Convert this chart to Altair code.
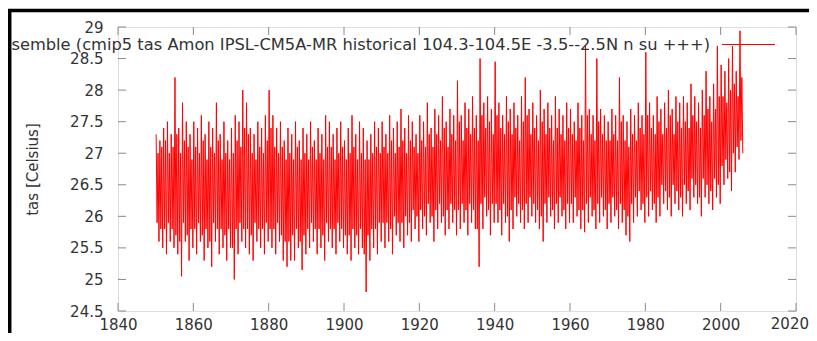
import altair as alt
import pandas as pd

# ---- data, 1850-2005 ----
years = list(range(1850, 2006))
# annual upper spike
hi = [
    27.3, 27.2, 27.4, 27.5, 27.3, 28.2, 27.4, 27.8, 27.5, 27.3,
    27.5, 27.4, 27.6, 27.3, 27.5, 27.4, 27.8, 27.3, 27.5, 27.2,
    27.4, 27.6, 27.5, 28.0, 27.8, 27.4, 27.3, 27.5, 27.4, 27.6,
    28.0, 27.6, 27.4, 27.5, 27.2, 27.4, 27.3, 27.5, 27.2, 27.4,
    27.3, 27.5, 27.2, 27.4, 27.3, 27.6, 27.5, 27.3, 27.4, 27.5,
    27.2, 27.4, 27.6, 27.3, 27.5, 27.4, 27.2, 27.3, 27.5, 27.4,
    27.5, 27.3, 27.6, 27.4, 27.5, 27.7, 27.4, 27.6, 27.5, 27.3,
    27.6, 27.5, 27.8, 27.4, 27.7, 27.6, 27.9, 27.5, 27.7, 27.6,
    28.15, 27.6, 27.8, 27.7, 27.9, 27.6, 28.5, 27.8, 27.9, 27.7,
    28.45, 27.8, 27.6, 27.9, 27.7, 27.8, 27.6, 27.9, 28.2, 27.7,
    27.8, 27.6, 28.0, 27.7, 27.8, 27.6, 27.9, 27.7, 27.6, 27.8,
    27.7, 27.5, 27.8, 27.6, 28.7, 27.7, 27.6, 28.5, 27.7, 27.6,
    27.5, 27.7, 27.6, 28.2, 27.6, 27.5, 27.7, 27.6, 27.8, 27.6,
    28.6, 27.8, 27.6, 27.9, 27.7, 27.8, 28.0, 27.7, 27.9, 27.8,
    27.9, 27.8, 28.1, 27.9, 27.8, 28.0, 28.3, 27.9, 28.1, 28.7,
    28.4, 28.3, 28.5, 28.7, 28.3, 28.94,
]
# annual lower spike
lo = [
    25.6, 25.5, 25.4, 25.6, 25.5, 25.4, 25.05, 25.6, 25.3, 25.5,
    25.4, 25.6, 25.3, 25.5, 25.2, 25.6, 25.4, 25.5, 25.3, 25.5,
    25.0, 25.4, 25.6, 25.5, 25.4, 25.3, 25.6, 25.5, 25.4, 25.6,
    25.5, 25.4, 25.6, 25.3, 25.2, 25.3, 25.3, 25.5, 25.15, 25.4,
    25.5, 25.6, 25.4, 25.5, 25.3, 25.6, 25.5, 25.4, 25.6, 25.5,
    25.4, 25.3, 25.5, 25.4, 25.5, 24.8, 25.3, 25.5, 25.4, 25.6,
    25.5, 25.6, 25.4, 25.7, 25.6, 25.5, 25.7, 25.6, 25.8, 25.6,
    25.8, 25.7, 25.9, 25.6, 25.8, 25.9, 25.7, 25.8, 25.9, 25.7,
    25.8, 25.9, 25.7, 25.9, 25.8, 25.2, 25.8, 26.0, 25.7, 25.9,
    25.9, 25.7, 25.9, 25.6, 25.8, 26.0, 25.9, 25.8, 25.9, 26.0,
    25.9, 25.8, 25.6, 25.9, 26.0, 25.8, 25.9, 26.0, 25.8, 25.9,
    25.9, 26.0, 25.8, 25.75, 25.9, 26.0, 25.8, 25.9, 26.0, 25.8,
    25.9, 26.0, 25.8, 25.9, 25.7, 25.6, 25.9, 26.0, 26.1, 25.9,
    26.0, 26.1, 25.9, 26.0, 26.2, 26.1, 26.0, 26.2, 26.1, 26.0,
    26.2, 26.1, 26.3, 26.2, 26.0, 26.3, 26.2, 26.1, 26.3, 26.2,
    26.5, 26.6, 26.4, 26.7, 26.9, 27.0,
]
# top of the dense core of monthly values
core_top = [
    27.0, 27.1, 27.2, 27.0, 27.1, 27.3, 27.0, 27.2, 27.1, 26.9,
    27.1, 27.0, 27.2, 26.9, 27.1, 27.0, 27.2, 26.9, 27.0, 26.9,
    27.0, 27.2, 27.1, 27.4, 27.3, 27.0, 26.9, 27.1, 27.0, 27.2,
    27.4, 27.1, 27.0, 27.1, 26.9, 27.0, 26.9, 27.1, 26.9, 27.0,
    26.9, 27.1, 26.9, 27.0, 26.9, 27.1, 27.1, 26.9, 27.0, 27.1,
    26.9, 27.0, 27.1, 26.9, 27.0, 26.9, 26.9, 27.0, 27.1, 27.0,
    27.1, 27.0, 27.2, 27.0, 27.1, 27.2, 27.0, 27.2, 27.1, 27.0,
    27.2, 27.1, 27.3, 27.1, 27.3, 27.2, 27.4, 27.1, 27.3, 27.2,
    27.5, 27.2, 27.4, 27.3, 27.4, 27.2, 27.6, 27.4, 27.5, 27.3,
    27.6, 27.4, 27.3, 27.5, 27.3, 27.4, 27.2, 27.5, 27.6, 27.3,
    27.4, 27.2, 27.5, 27.3, 27.4, 27.2, 27.4, 27.3, 27.2, 27.4,
    27.3, 27.2, 27.4, 27.2, 27.6, 27.3, 27.2, 27.5, 27.3, 27.2,
    27.2, 27.3, 27.2, 27.5, 27.2, 27.1, 27.3, 27.2, 27.4, 27.3,
    27.6, 27.4, 27.3, 27.5, 27.3, 27.4, 27.6, 27.3, 27.5, 27.4,
    27.5, 27.4, 27.6, 27.5, 27.4, 27.6, 27.7, 27.5, 27.7, 27.9,
    27.9, 27.8, 28.0, 28.1, 27.9, 28.2,
]
# bottom of the dense core of monthly values
core_bot = [
    25.9, 25.8, 25.8, 25.9, 25.8, 25.7, 25.6, 25.9, 25.7, 25.8,
    25.8, 25.9, 25.7, 25.8, 25.6, 25.9, 25.8, 25.8, 25.7, 25.8,
    25.5, 25.8, 25.9, 25.8, 25.8, 25.7, 25.9, 25.8, 25.8, 25.9,
    25.8, 25.8, 25.9, 25.7, 25.6, 25.6, 25.7, 25.8, 25.6, 25.7,
    25.8, 25.9, 25.8, 25.8, 25.7, 25.9, 25.8, 25.8, 25.9, 25.8,
    25.7, 25.7, 25.8, 25.7, 25.8, 25.4, 25.7, 25.8, 25.8, 25.9,
    25.9, 25.9, 25.8, 26.0, 25.9, 25.9, 26.0, 25.9, 26.1, 26.0,
    26.1, 26.0, 26.2, 26.0, 26.1, 26.2, 26.0, 26.1, 26.2, 26.1,
    26.1, 26.2, 26.1, 26.2, 26.1, 25.8, 26.2, 26.3, 26.1, 26.2,
    26.2, 26.1, 26.2, 26.0, 26.1, 26.3, 26.2, 26.1, 26.2, 26.3,
    26.2, 26.1, 26.0, 26.2, 26.3, 26.1, 26.2, 26.3, 26.1, 26.2,
    26.2, 26.3, 26.1, 26.1, 26.2, 26.3, 26.1, 26.2, 26.3, 26.1,
    26.2, 26.3, 26.1, 26.2, 26.1, 26.0, 26.2, 26.3, 26.4, 26.2,
    26.3, 26.4, 26.2, 26.3, 26.5, 26.4, 26.3, 26.5, 26.4, 26.3,
    26.5, 26.4, 26.6, 26.5, 26.3, 26.6, 26.5, 26.4, 26.6, 26.5,
    26.8, 26.9, 26.7, 27.0, 27.1, 27.2,
]
x_ticks = [1840, 1860, 1880, 1900, 1920, 1940, 1960, 1980, 2000, 2020]
y_ticks = [24.5, 25, 25.5, 26, 26.5, 27, 27.5, 28, 28.5, 29]
last_x_label = ["2020"]
legend_label = "ensemble (cmip5 tas Amon IPSL-CM5A-MR historical 104.3-104.5E -3.5--2.5N n su +++)"
y_title = "tas [Celsius]"

# ---- build table: four points per year ----
rows = []
for yr, h, cb, ct, l in zip(years, hi, core_bot, core_top, lo):
    rows.append({"t": yr + 0.125, "v": h})
    rows.append({"t": yr + 0.375, "v": cb})
    rows.append({"t": yr + 0.625, "v": ct})
    rows.append({"t": yr + 0.875, "v": l})
df = pd.DataFrame(rows)

W, H = 678, 284
FONT = "DejaVu Sans"
TXT = "#333333"
FRAME = "#8a8a8a"

xs = alt.Scale(domain=[1840, 2020], nice=False, zero=False)
ys = alt.Scale(domain=[24.5, 29], nice=False, zero=False)

x_axis = alt.Axis(
    values=x_ticks, format="d", ticks=False, domain=False, grid=False,
    labelExpr="datum.value == 2020 ? '' : datum.label",
    labelFont=FONT, labelFontSize=15, labelColor=TXT, labelPadding=6,
    labelFlush=False, title=None)
y_axis = alt.Axis(
    values=y_ticks, format=".1~f", ticks=False, domain=False, grid=False,
    labelFont=FONT, labelFontSize=15, labelColor=TXT, labelPadding=15,
    labelFlush=False, title=y_title, titleFont=FONT, titleFontSize=15,
    titleFontWeight="normal", titleColor=TXT, titleX=-86, titleY=H / 2,
    titleBaseline="middle", titleAngle=-90)

line = alt.Chart(df).mark_line(color="#ff0000", strokeWidth=1, clip=True).encode(
    x=alt.X("t:Q", scale=xs, axis=x_axis),
    y=alt.Y("v:Q", scale=ys, axis=y_axis),
)

xt = pd.DataFrame({"t": x_ticks})
yt = pd.DataFrame({"v": y_ticks})

bottom_ticks = alt.Chart(xt).mark_rule(color=FRAME, strokeWidth=1).encode(
    x=alt.X("t:Q", scale=xs, axis=x_axis), y=alt.value(H), y2=alt.value(H - 8))
top_ticks = alt.Chart(xt).mark_rule(color=FRAME, strokeWidth=1).encode(
    x=alt.X("t:Q", scale=xs, axis=x_axis), y=alt.value(0), y2=alt.value(8))
left_ticks = alt.Chart(yt).mark_rule(color=FRAME, strokeWidth=1).encode(
    y=alt.Y("v:Q", scale=ys, axis=y_axis), x=alt.value(0), x2=alt.value(8))
right_ticks = alt.Chart(yt).mark_rule(color=FRAME, strokeWidth=1).encode(
    y=alt.Y("v:Q", scale=ys, axis=y_axis), x=alt.value(W), x2=alt.value(W - 8))

# last x label kept inside the page edge
last_lab = alt.Chart(pd.DataFrame({"lab": last_x_label})).mark_text(
    align="right", baseline="top", font=FONT, fontSize=15, color=TXT
).encode(x=alt.value(W + 13), y=alt.value(H + 6), text="lab:N")

leg_df = pd.DataFrame({"label": [legend_label]})
leg_text = alt.Chart(leg_df).mark_text(
    align="right", baseline="middle", font=FONT, fontSize=16.3, color=TXT
).encode(x=alt.value(592), y=alt.value(18), text="label:N")
leg_line = alt.Chart(leg_df).mark_rule(color="#ff0000", strokeWidth=1).encode(
    x=alt.value(604), x2=alt.value(657), y=alt.value(17.5))

# black frame of the screenshot
border_top = alt.Chart(leg_df).mark_rule(color="#000000", strokeWidth=3.5).encode(
    x=alt.value(-112), x2=alt.value(702), y=alt.value(-16.5))
border_left = alt.Chart(leg_df).mark_rule(color="#000000", strokeWidth=3.5).encode(
    x=alt.value(-108.3), y=alt.value(-18), y2=alt.value(310))

chart = alt.layer(
    line, bottom_ticks, top_ticks, left_ticks, right_ticks, last_lab,
    leg_text, leg_line, border_top, border_left,
).properties(
    width=W, height=H,
    autosize=alt.AutoSizeParams(type="none"),
    padding={"left": 110, "top": 19, "right": 13, "bottom": 22},
).configure_view(
    stroke=FRAME, strokeWidth=1.2
).configure(background="white")

chart.save("out.html", embed_options={"renderer": "svg", "actions": False})
